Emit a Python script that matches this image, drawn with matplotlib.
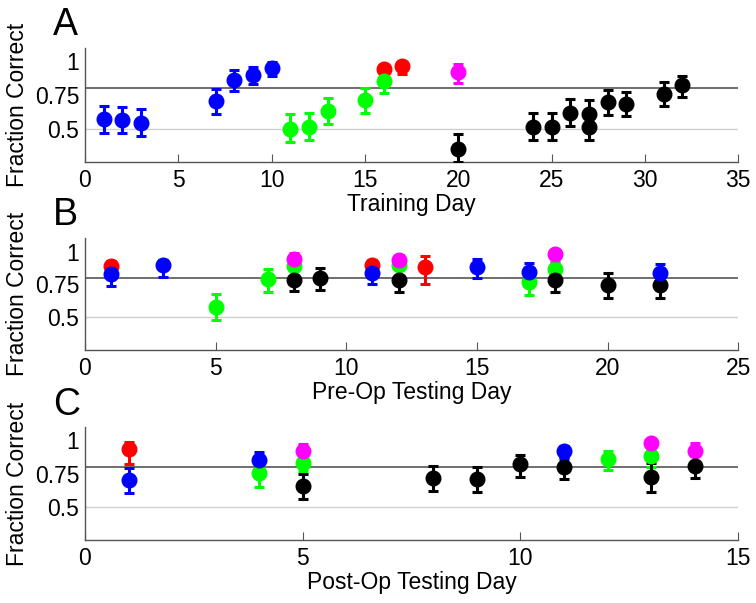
import matplotlib
matplotlib.use('Agg')
import matplotlib.pyplot as plt
import numpy as np

plt.rcParams['font.family'] = ['Liberation Sans', 'DejaVu Sans']

# ---- data: (day, value, lower err, upper err) per colour group ----
# Panel A: training
a_blue_day = [1, 2, 3, 7, 8, 9, 10]
a_blue_val = [0.57, 0.563, 0.543, 0.705, 0.863, 0.90, 0.955]
a_blue_lo = [0.10, 0.10, 0.10, 0.10, 0.08, 0.07, 0.06]
a_blue_hi = [0.10, 0.10, 0.10, 0.09, 0.07, 0.06, 0.04]
a_green_day = [11, 12, 13, 15, 16]
a_green_val = [0.50, 0.512, 0.63, 0.713, 0.855]
a_green_lo = [0.10, 0.10, 0.10, 0.10, 0.09]
a_green_hi = [0.105, 0.10, 0.10, 0.09, 0.07]
a_red_day = [16, 17]
a_red_val = [0.943, 0.963]
a_red_lo = [0.06, 0.06]
a_red_hi = [0.03, 0.03]
a_mag_day = [20]
a_mag_val = [0.918]
a_mag_lo = [0.08]
a_mag_hi = [0.06]
a_black_day = [20, 24, 25, 26, 27, 27, 28, 29, 31, 32]
a_black_val = [0.35, 0.512, 0.512, 0.618, 0.61, 0.512, 0.70, 0.683, 0.76, 0.823]
a_black_lo = [0.10, 0.10, 0.10, 0.10, 0.10, 0.10, 0.10, 0.09, 0.09, 0.09]
a_black_hi = [0.11, 0.105, 0.105, 0.10, 0.10, 0.105, 0.09, 0.09, 0.09, 0.07]

# Panel B: pre-op testing
b_red_day = [1, 11, 13]
b_red_val = [0.889, 0.894, 0.88]
b_red_lo = [0.05, 0.05, 0.13]
b_red_hi = [0.04, 0.04, 0.085]
b_blue_day = [1, 3, 11, 15, 17, 22]
b_blue_val = [0.827, 0.894, 0.84, 0.88, 0.846, 0.84]
b_blue_lo = [0.09, 0.085, 0.09, 0.085, 0.07, 0.07]
b_blue_hi = [0.07, 0.045, 0.06, 0.06, 0.065, 0.065]
b_green_day = [5, 7, 8, 12, 17, 18]
b_green_val = [0.579, 0.79, 0.889, 0.896, 0.765, 0.869]
b_green_lo = [0.10, 0.095, 0.08, 0.08, 0.095, 0.08]
b_green_hi = [0.10, 0.075, 0.05, 0.05, 0.08, 0.06]
b_mag_day = [8, 12, 18]
b_mag_val = [0.946, 0.933, 0.98]
b_mag_lo = [0.06, 0.06, 0.07]
b_mag_hi = [0.04, 0.04, 0.03]
b_black_day = [8, 9, 12, 18, 20, 22]
b_black_val = [0.787, 0.80, 0.785, 0.785, 0.745, 0.745]
b_black_lo = [0.09, 0.09, 0.09, 0.09, 0.10, 0.10]
b_black_hi = [0.08, 0.075, 0.08, 0.09, 0.09, 0.09]

# Panel C: post-op testing
c_red_day = [1]
c_red_val = [0.933]
c_red_lo = [0.11]
c_red_hi = [0.055]
c_blue_day = [1, 4, 11]
c_blue_val = [0.703, 0.851, 0.921]
c_blue_lo = [0.10, 0.07, 0.06]
c_blue_hi = [0.09, 0.06, 0.04]
c_green_day = [4, 5, 12, 13]
c_green_val = [0.752, 0.832, 0.859, 0.881]
c_green_lo = [0.10, 0.06, 0.08, 0.08]
c_green_hi = [0.08, 0.03, 0.06, 0.05]
c_mag_day = [5, 13, 14]
c_mag_val = [0.918, 0.983, 0.918]
c_mag_lo = [0.11, 0.07, 0.07]
c_mag_hi = [0.055, 0.03, 0.06]
c_black_day = [5, 8, 9, 10, 11, 13, 14]
c_black_val = [0.66, 0.72, 0.71, 0.822, 0.797, 0.728, 0.81]
c_black_lo = [0.10, 0.10, 0.10, 0.095, 0.09, 0.12, 0.09]
c_black_hi = [0.09, 0.087, 0.087, 0.07, 0.08, 0.10, 0.08]

RED, GREEN, MAG, BLACK, BLUE = '#ff0000', '#00ff00', '#ff00ff', '#000000', '#0000ff'

panels = [
    ('A', 'Training Day', 35, [
        (RED, a_red_day, a_red_val, a_red_lo, a_red_hi),
        (GREEN, a_green_day, a_green_val, a_green_lo, a_green_hi),
        (MAG, a_mag_day, a_mag_val, a_mag_lo, a_mag_hi),
        (BLACK, a_black_day, a_black_val, a_black_lo, a_black_hi),
        (BLUE, a_blue_day, a_blue_val, a_blue_lo, a_blue_hi)]),
    ('B', 'Pre-Op Testing Day', 25, [
        (RED, b_red_day, b_red_val, b_red_lo, b_red_hi),
        (GREEN, b_green_day, b_green_val, b_green_lo, b_green_hi),
        (MAG, b_mag_day, b_mag_val, b_mag_lo, b_mag_hi),
        (BLACK, b_black_day, b_black_val, b_black_lo, b_black_hi),
        (BLUE, b_blue_day, b_blue_val, b_blue_lo, b_blue_hi)]),
    ('C', 'Post-Op Testing Day', 15, [
        (RED, c_red_day, c_red_val, c_red_lo, c_red_hi),
        (GREEN, c_green_day, c_green_val, c_green_lo, c_green_hi),
        (MAG, c_mag_day, c_mag_val, c_mag_lo, c_mag_hi),
        (BLACK, c_black_day, c_black_val, c_black_lo, c_black_hi),
        (BLUE, c_blue_day, c_blue_val, c_blue_lo, c_blue_hi)]),
]

fig = plt.figure(figsize=(7.56, 6.03), dpi=100)

# axes boxes in figure fractions: left, bottom, width, height
boxes = [(0.1124, 0.7313, 0.864, 0.189),
         (0.1124, 0.4196, 0.864, 0.185),
         (0.1124, 0.1045, 0.864, 0.187)]
letter_y = [0.942, 0.627, 0.312]

for (letter, xlab, xmax, groups), box, ly in zip(panels, boxes, letter_y):
    ax = fig.add_axes(box)
    ax.axhline(0.8, color='#555555', lw=1.2, zorder=1)
    ax.axhline(0.5, color='#d0d0d0', lw=1.0, zorder=1)
    for col, day, val, lo, hi in groups:
        ax.errorbar(day, val, yerr=[lo, hi], fmt='o', color=col, ms=10.5,
                    elinewidth=2.2, capsize=3.5, capthick=2.2, zorder=3)
    ax.set_xlim(0, xmax)
    ax.set_ylim(0.25, 1.1)
    ax.set_xticks(np.arange(0, xmax + 1, 5))
    ax.set_yticks([0.5, 0.75, 1])
    ax.set_yticklabels(['0.5', '0.75', '1'])
    for s in ['top', 'right']:
        ax.spines[s].set_visible(False)
    for s in ['left', 'bottom']:
        ax.spines[s].set_color('#555555')
        ax.spines[s].set_linewidth(1.0)
    ax.tick_params(axis='x', direction='in', length=6, color='#555555',
                   labelsize=16.5, pad=5)
    ax.tick_params(axis='y', direction='in', length=0, labelsize=16.5, pad=4)
    ax.set_xlabel(xlab, fontsize=16.5, labelpad=1)
    ax.set_ylabel('Fraction Correct', fontsize=16.5, labelpad=4)
    fig.text(0.070, ly, letter, fontsize=27, va='baseline', ha='left')

plt.savefig('out.png', dpi=100)
